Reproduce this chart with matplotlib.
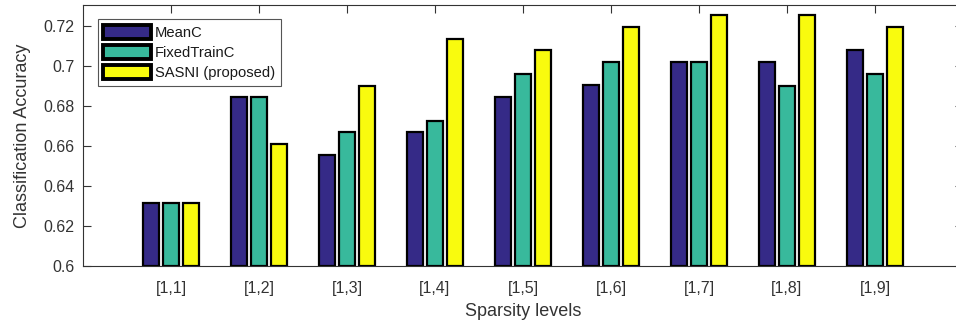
import matplotlib
matplotlib.use("Agg")
import matplotlib.pyplot as plt
import numpy as np
from matplotlib.ticker import FuncFormatter

plt.rcParams.update({
    "font.family": ["Liberation Sans", "DejaVu Sans"],
    "font.size": 11.5,
    "axes.linewidth": 0.8,
})

categories = ["[1,1]", "[1,2]", "[1,3]", "[1,4]", "[1,5]", "[1,6]", "[1,7]", "[1,8]", "[1,9]"]
mean_c = [0.6316, 0.6842, 0.6553, 0.6667, 0.6842, 0.6902, 0.7018, 0.7018, 0.7076]
fixed_train_c = [0.6316, 0.6842, 0.6667, 0.6725, 0.6959, 0.7018, 0.7018, 0.6901, 0.6959]
sasni = [0.6316, 0.6608, 0.6901, 0.7135, 0.7076, 0.7193, 0.7251, 0.7251, 0.7193]

series = [
    ("MeanC", mean_c, "#352a87"),
    ("FixedTrainC", fixed_train_c, "#38b99c"),
    ("SASNI (proposed)", sasni, "#f9fb0e"),
]

fig = plt.figure(figsize=(9.56, 3.24), dpi=100)
ax = fig.add_axes([83 / 956, 58 / 324, 880 / 956, 261 / 324])

x = np.arange(1, len(categories) + 1)
step = 0.224
width = 0.18
for i, (label, values, color) in enumerate(series):
    ax.bar(x + (i - 1) * step, np.array(values) - 0.6, bottom=0.6, width=width,
           color=color, edgecolor="black", linewidth=1.6, label=label, zorder=2)

ax.set_xlim(0, 10)
ax.set_ylim(0.6, 0.7303)
ax.set_xticks(x, categories)
ax.set_yticks([0.6, 0.62, 0.64, 0.66, 0.68, 0.7, 0.72])
ax.yaxis.set_major_formatter(FuncFormatter(lambda v, _: f"{v:g}"))
ax.tick_params(direction="in", length=6, width=0.8, colors="#333333",
               top=True, right=True, labelsize=11.5)
ax.tick_params(axis="x", pad=11)
ax.tick_params(axis="y", pad=6)
for spine in ax.spines.values():
    spine.set_color("#333333")

ax.set_xlabel("Sparsity levels", fontsize=13, color="#333333", labelpad=5)
ax.set_ylabel("Classification Accuracy", fontsize=13, color="#333333", labelpad=9)

leg = ax.legend(loc="upper left", bbox_to_anchor=(0.0165, 0.945), fontsize=10.6,
                handlelength=3.2, handleheight=1.1, labelspacing=0.33,
                handletextpad=0.3, borderpad=0.4, borderaxespad=0.0,
                fancybox=False, framealpha=1.0)
leg.get_frame().set_edgecolor("#555555")
leg.get_frame().set_linewidth(0.8)
for patch in leg.get_patches():
    patch.set_linewidth(2.8)
for text in leg.get_texts():
    text.set_color("#1a1a1a")

fig.savefig("out.png", dpi=100)
